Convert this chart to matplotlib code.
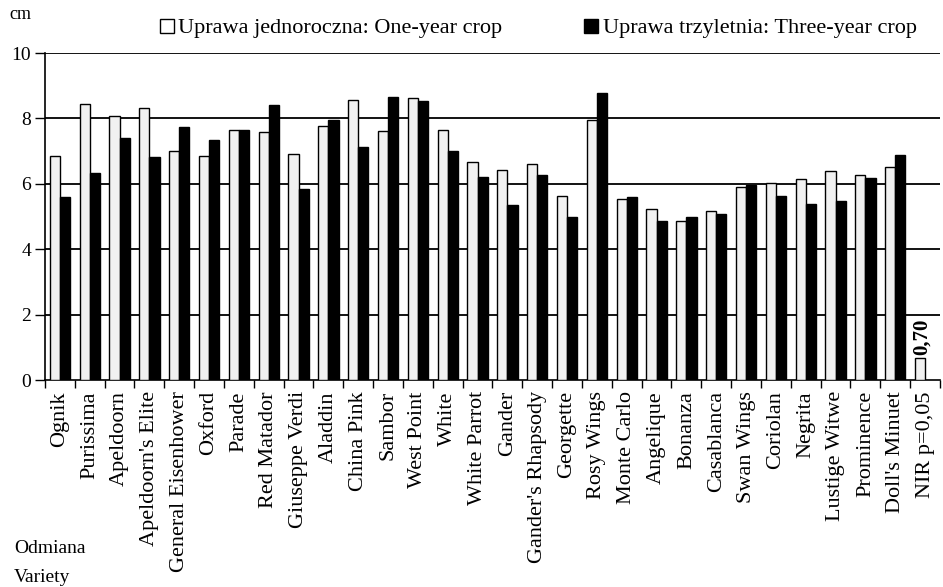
import numpy as np
import matplotlib
matplotlib.use('Agg')
import matplotlib.pyplot as plt
from matplotlib.lines import Line2D

################################################################################
# Data (stem length, cm)
varieties = ['Ognik', 'Purissima', 'Apeldoorn', "Apeldoorn's Elite",
             'General Eisenhower', 'Oxford', 'Parade', 'Red Matador',
             'Giuseppe Verdi', 'Aladdin', 'China Pink', 'Sambor', 'West Point',
             'White', 'White Parrot', 'Gander', "Gander's Rhapsody", 'Georgette',
             'Rosy Wings', 'Monte Carlo', 'Angelique', 'Bonanza', 'Casablanca',
             'Swan Wings', 'Coriolan', 'Negrita', 'Lustige Witwe', 'Prominence',
             "Doll's Minuet", 'NIR p=0,05']
one_year = [6.86, 8.45, 8.07, 8.32, 7.00, 6.85, 7.64, 7.58, 6.90, 7.76,
            8.57, 7.60, 8.61, 7.64, 6.67, 6.43, 6.61, 5.64, 7.95, 5.53,
            5.22, 4.85, 5.17, 5.89, 6.01, 6.15, 6.39, 6.27, 6.52, 0.66]
three_year = [5.61, 6.34, 7.41, 6.82, 7.73, 7.34, 7.66, 8.40, 5.85, 7.95,
              7.12, 8.64, 8.52, 6.99, 6.22, 5.36, 6.28, 4.99, 8.78, 5.61,
              4.87, 4.98, 5.07, 5.95, 5.62, 5.37, 5.48, 6.18, 6.88, np.nan]
nir_label = '0,70'
y_ticks = [0, 2, 4, 6, 8, 10]

################################################################################
plt.rcParams['font.family'] = ['Liberation Serif', 'DejaVu Serif']

fig = plt.figure(figsize=(9.43, 5.87), dpi=100)
ax = fig.add_axes([0.0477, 0.3526, 0.9491, 0.5571])

x = np.arange(len(varieties))
bw = 0.34
ax.bar(x - bw / 2, one_year, width=bw, color='#f1f1f1', edgecolor='black',
       linewidth=1.0, zorder=3)
ax.bar(x + bw / 2, three_year, width=bw, color='black', edgecolor='black',
       linewidth=1.0, zorder=3)

# NIR value written above its bar
ax.text(x[-1] - bw / 2 + 0.05, one_year[-1] + 0.12, nir_label, rotation=90,
        ha='center', va='bottom', fontsize=15, fontweight='bold')

ax.set_xlim(-0.5, len(varieties) - 0.5)
ax.set_ylim(0, 10)
ax.set_yticks(y_ticks)
ax.tick_params(axis='y', labelsize=14, length=7, width=1.0, pad=3)
for t in y_ticks[1:]:
    ax.axhline(t, color='black', linewidth=1.3, zorder=1)

ax.set_xticks(x)
ax.set_xticklabels(varieties, rotation=90, fontsize=16)
ax.tick_params(axis='x', which='major', length=0, pad=8)
ax.set_xticks(np.arange(len(varieties) + 1) - 0.5, minor=True)
ax.tick_params(axis='x', which='minor', length=6, width=1.0)

for s in ['top', 'right']:
    ax.spines[s].set_visible(False)
ax.spines['left'].set_linewidth(1.2)
ax.spines['bottom'].set_linewidth(1.2)

fig.text(0.010, 0.975, 'cm', fontsize=13, ha='left', va='center')
fig.text(0.015, 0.066, 'Odmiana', fontsize=14, ha='left', va='center')
fig.text(0.015, 0.016, 'Variety', fontsize=14, ha='left', va='center')

handles = [Line2D([], [], marker='s', linestyle='none', markersize=10,
                  markerfacecolor='white', markeredgecolor='black'),
           Line2D([], [], marker='s', linestyle='none', markersize=10,
                  markerfacecolor='black', markeredgecolor='black')]
fig.legend(handles, ['Uprawa jednoroczna: One-year crop',
                     'Uprawa trzyletnia: Three-year crop'],
           loc='center', bbox_to_anchor=(0.570, 0.952), ncol=2, frameon=False,
           fontsize=16, handlelength=0.8, handletextpad=0.1, columnspacing=3.6)

fig.savefig('out.png', dpi=100)
